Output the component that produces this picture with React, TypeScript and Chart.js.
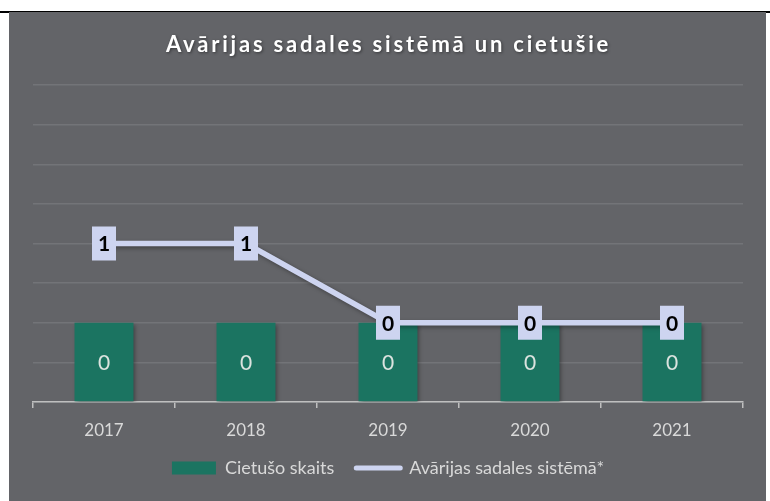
import React, { useEffect, useRef } from "react";
import { Chart, registerables } from "chart.js";

Chart.register(...registerables);

const categories = ["2017", "2018", "2019", "2020", "2021"];
const injuredValues = [0, 0, 0, 0, 0];
const accidentValues = [1, 1, 0, 0, 0];
const seriesNames = ["Cietušo skaits", "Avārijas sadales sistēmā*"];
const chartTitle = "Avārijas sadales sistēmā un cietušie";

const BAR_COLOR = "#1b7461";
const LINE_COLOR = "#cdd4f0";
const TEXT_COLOR = "#d9d9d9";
const FONT = "Lato, 'Open Sans', sans-serif";

export default function App() {
  const ref = useRef<HTMLCanvasElement | null>(null);

  useEffect(() => {
    if (!ref.current) return;

    const titlePlugin = {
      id: "spacedTitle",
      afterDraw(chart: any) {
        const ctx = chart.ctx;
        ctx.save();
        ctx.font = `bold 22px ${FONT}`;
        (ctx as any).letterSpacing = "2.8px";
        ctx.textAlign = "center";
        ctx.textBaseline = "middle";
        ctx.shadowColor = "rgba(0,0,0,0.45)";
        ctx.shadowBlur = 3;
        ctx.shadowOffsetX = 1;
        ctx.shadowOffsetY = 1;
        ctx.fillStyle = "#ffffff";
        ctx.fillText(chartTitle, chart.width / 2 + 1, 33);
        ctx.restore();
      },
    };

    const shadowPlugin = {
      id: "shadows",
      beforeDatasetDraw(chart: any) {
        const ctx = chart.ctx;
        ctx.save();
        ctx.shadowColor = "rgba(0,0,0,0.35)";
        ctx.shadowBlur = 4;
        ctx.shadowOffsetX = 2;
        ctx.shadowOffsetY = 2;
      },
      afterDatasetDraw(chart: any) {
        chart.ctx.restore();
      },
    };

    const labelsPlugin = {
      id: "valueLabels",
      afterDatasetsDraw(chart: any) {
        const ctx = chart.ctx;
        ctx.save();
        ctx.textAlign = "center";
        ctx.textBaseline = "middle";
        const barMeta = chart.getDatasetMeta(0);
        ctx.font = `21px ${FONT}`;
        ctx.fillStyle = "#dbe3df";
        barMeta.data.forEach((el: any, i: number) => {
          const { x, y, base } = el.getProps(["x", "y", "base"], true);
          ctx.fillText(String(injuredValues[i]), x, (y + base) / 2 + 1);
        });
        const lineMeta = chart.getDatasetMeta(1);
        lineMeta.data.forEach((el: any, i: number) => {
          const { x, y } = el.getProps(["x", "y"], true);
          ctx.fillStyle = LINE_COLOR;
          ctx.fillRect(x - 12, y - 17, 24, 34);
          ctx.fillStyle = "#000000";
          ctx.font = `bold 21px ${FONT}`;
          ctx.fillText(String(accidentValues[i]), x, y + 1);
        });
        ctx.restore();
      },
    };

    const chart = new Chart(ref.current, {
      type: "bar",
      data: {
        labels: categories,
        datasets: [
          {
            type: "bar",
            label: seriesNames[0],
            data: injuredValues,
            backgroundColor: BAR_COLOR,
            base: -2,
            yAxisID: "y",
            barPercentage: 0.415,
            categoryPercentage: 1,
            order: 1,
          } as any,
          {
            type: "line",
            label: seriesNames[1],
            data: accidentValues,
            borderColor: LINE_COLOR,
            backgroundColor: LINE_COLOR,
            borderWidth: 5.5,
            pointRadius: 0,
            tension: 0,
            yAxisID: "y2",
            order: 0,
          } as any,
        ],
      },
      options: {
        responsive: false,
        animation: false,
        layout: { padding: { left: 24, right: 23, top: 73, bottom: 14 } },
        plugins: {
          title: { display: false },
          tooltip: { enabled: false },
          legend: {
            position: "bottom",
            labels: {
              color: TEXT_COLOR,
              font: { family: FONT, size: 18 },
              usePointStyle: true,
              pointStyleWidth: 44,
              boxHeight: 13,
              padding: 22,
              generateLabels: () => [
                {
                  text: seriesNames[0],
                  fillStyle: BAR_COLOR,
                  strokeStyle: BAR_COLOR,
                  lineWidth: 0,
                  pointStyle: "rect",
                  fontColor: TEXT_COLOR,
                  datasetIndex: 0,
                  hidden: false,
                },
                {
                  text: seriesNames[1],
                  fillStyle: LINE_COLOR,
                  strokeStyle: LINE_COLOR,
                  lineWidth: 5,
                  lineCap: "round",
                  pointStyle: "line",
                  fontColor: TEXT_COLOR,
                  datasetIndex: 1,
                  hidden: false,
                },
              ] as any,
            },
          },
        },
        scales: {
          x: {
            grid: {
              display: true,
              drawOnChartArea: false,
              drawTicks: true,
              tickLength: 6,
              color: "#bfbfbf",
              lineWidth: 1.5,
              offset: true,
            },
            border: { display: true, color: "#bfbfbf", width: 1.5 },
            ticks: {
              color: TEXT_COLOR,
              font: { family: FONT, size: 17 },
              padding: 12,
            },
            afterFit: (scale: any) => {
              scale.height = 35;
            },
          },
          y: {
            min: -2,
            max: 6,
            ticks: { display: false, stepSize: 1 },
            border: { display: false },
            grid: { color: "#737478", lineWidth: 1.5, drawTicks: false },
          },
          y2: {
            display: false,
            min: -1,
            max: 3,
          },
        },
      },
      plugins: [titlePlugin, shadowPlugin, labelsPlugin],
    });

    return () => chart.destroy();
  }, []);

  return (
    <div
      style={{
        position: "absolute",
        left: 0,
        top: 0,
        width: 770,
        height: 501,
        background: "#ffffff",
        overflow: "hidden",
      }}
    >
      <div
        style={{
          position: "absolute",
          left: 0,
          top: 11,
          width: 770,
          height: 2,
          background: "#000000",
        }}
      />
      <div
        style={{
          position: "absolute",
          left: 9,
          top: 12,
          width: 757,
          height: 489,
          background: "#636468",
        }}
      >
        <canvas
          ref={ref}
          width={757}
          height={489}
          style={{ display: "block", width: 757, height: 489 }}
        />
      </div>
    </div>
  );
}
